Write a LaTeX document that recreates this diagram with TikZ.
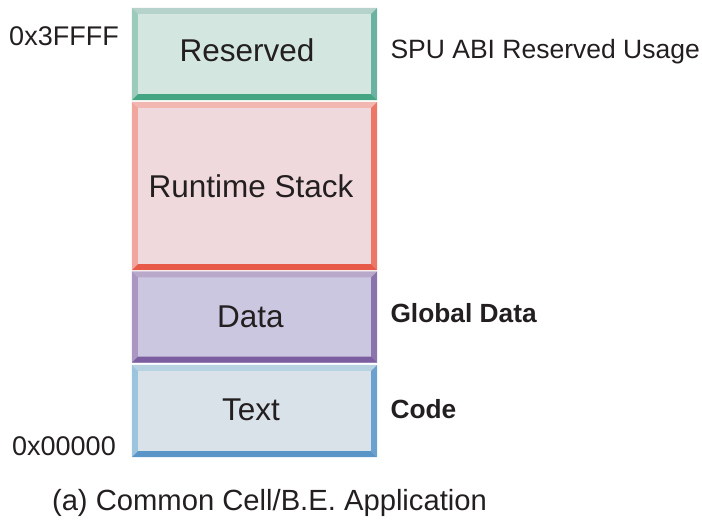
\documentclass[tikz,border=0pt]{standalone}
\usepackage{fontspec}
\setmainfont{Liberation Sans}
\usetikzlibrary{calc}
\definecolor{ink}{HTML}{231F20}
% Reserved region
\definecolor{resFill}{HTML}{D3E6DF}\definecolor{resTop}{HTML}{B5D3CB}
\definecolor{resLeft}{HTML}{9CCBBC}\definecolor{resRight}{HTML}{6AB3A0}
\definecolor{resBot}{HTML}{44A582}
% Runtime stack
\definecolor{stkFill}{HTML}{F0D9DC}\definecolor{stkTop}{HTML}{F2B7B1}
\definecolor{stkLeft}{HTML}{F0A69F}\definecolor{stkRight}{HTML}{EC7766}
\definecolor{stkBot}{HTML}{E85A48}
% Data
\definecolor{datFill}{HTML}{CCC7E0}\definecolor{datTop}{HTML}{B8A9CB}
\definecolor{datLeft}{HTML}{A997C2}\definecolor{datRight}{HTML}{8A74AB}
\definecolor{datBot}{HTML}{7B5EA0}
% Text (code)
\definecolor{txtFill}{HTML}{DAE2E9}\definecolor{txtTop}{HTML}{B7D3E2}
\definecolor{txtLeft}{HTML}{9BC5DF}\definecolor{txtRight}{HTML}{6BA1CE}
\definecolor{txtBot}{HTML}{5A95C8}
% four bevelled edges around a segment node: #1 name, #2 top, #3 left, #4 right, #5 bottom
\newcommand\bevelframe[5]{%
  \fill[#2] (#1.north west) -- (#1.north east) -- ($(#1.north east)+(-6,6)$) -- ($(#1.north west)+(6,6)$) -- cycle;
  \fill[#3] (#1.north west) -- (#1.south west) -- ($(#1.south west)+(6,-6)$) -- ($(#1.north west)+(6,6)$) -- cycle;
  \fill[#4] (#1.north east) -- (#1.south east) -- ($(#1.south east)+(-6,-6)$) -- ($(#1.north east)+(-6,6)$) -- cycle;
  \fill[#5] (#1.south west) -- (#1.south east) -- ($(#1.south east)+(-6,-6)$) -- ($(#1.south west)+(6,-6)$) -- cycle;
}
\tikzset{
  segment/.style={inner sep=0pt, minimum width=245pt},
  seglabel/.style={text=ink, inner sep=0pt, font=\fontsize{31.5}{36}\selectfont},
  addr/.style={text=ink, font=\fontsize{27}{30}\selectfont},
  note/.style={anchor=west, text=ink, font=\fontsize{26.5}{30}\selectfont},
  bnote/.style={anchor=west, text=ink, font=\fontsize{26.3}{30}\selectfont\bfseries},
}
\begin{document}
\begin{tikzpicture}[x=1pt,y=-1pt]
\useasboundingbox (0,0) rectangle (702,522);

% memory segments, bottom address at the bottom
\node[segment, fill=resFill, minimum height=92pt] (res) at (254.5,54) {};
\bevelframe{res}{resTop}{resLeft}{resRight}{resBot}
\node[segment, fill=stkFill, minimum height=168pt] (stk) at (254.5,186) {};
\bevelframe{stk}{stkTop}{stkLeft}{stkRight}{stkBot}
\node[segment, fill=datFill, minimum height=91pt] (dat) at (254.5,317) {};
\bevelframe{dat}{datTop}{datLeft}{datRight}{datBot}
\node[segment, fill=txtFill, minimum height=92pt] (txt) at (254.5,411) {};
\bevelframe{txt}{txtTop}{txtLeft}{txtRight}{txtBot}

% segment names
\node[seglabel] (resname) at (247,50) {Reserved};
\node[seglabel] (stkname) at (251,186) {Runtime Stack};
\node[seglabel] (datname) at (250.5,317) {Data};
\node[seglabel] (txtname) at (251,410) {Text};

\node[addr] (top) at (64,36) {0x3FFFF};
\node[addr] (bottom) at (64,446) {0x00000};

\node[note] (abi) at (387,52) {SPU ABI Reserved Usage};
\node[bnote] (glob) at (387,313) {Global Data};
\node[bnote] (code) at (387,409) {Code};

\node[text=ink, font=\fontsize{29.2}{34}\selectfont] (cap) at (269.5,503) {(a) Common Cell/B.E. Application};
\end{tikzpicture}
\end{document}
